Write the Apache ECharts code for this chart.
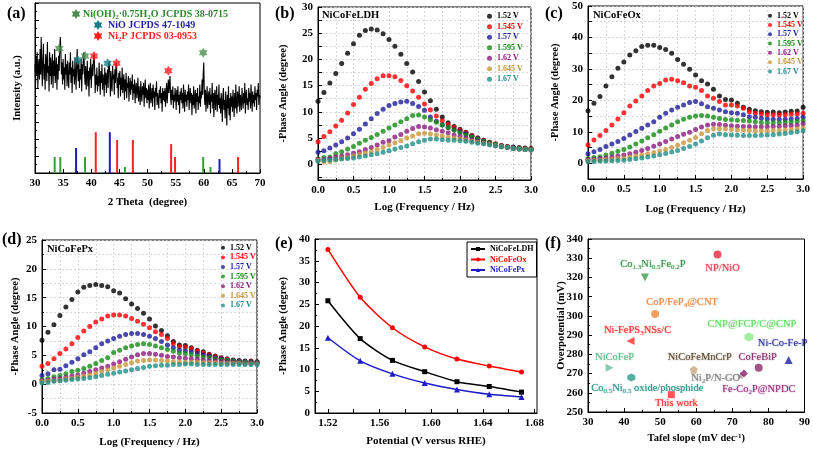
<!DOCTYPE html>
<html><head><meta charset="utf-8">
<script src="https://cdn.jsdelivr.net/npm/echarts@6/dist/echarts.min.js"></script>
<style>html,body{margin:0;padding:0;background:#fff}#c{width:813px;height:449px}</style>
</head><body><div id="c"></div>
<script>
// ---------- (a) XRD ----------
const XRD_START = 30, XRD_STEP = 0.1;
const XRD_INTENSITY = [
64,53,69,57,71,50,62,67,55,73,
58,80,62,51,68,76,55,64,49,70,
66,54,77,59,63,48,71,57,68,52,
62,70,50,66,57,73,53,61,68,49,
64,55,69,60,74,80,72,58,65,52,
67,55,62,49,70,58,64,51,66,56,
50,65,58,71,53,62,47,66,57,61,
52,68,59,49,63,73,60,54,66,50,
61,55,67,48,64,58,69,71,59,52,
63,49,58,66,51,60,45,62,55,67,
50,59,64,57,68,70,61,47,58,52,
62,48,57,51,65,55,46,60,53,64,
49,58,55,45,62,52,59,47,56,61,
50,64,66,57,45,60,52,48,63,55,
58,46,61,53,65,63,50,56,44,59,
52,60,45,56,49,62,47,54,58,43,
55,48,59,44,53,50,57,42,51,56,
46,54,49,58,43,52,47,55,41,50,
53,44,49,56,42,51,46,40,54,47,
42,51,46,53,39,48,55,44,50,41,
49,43,52,38,47,53,41,45,50,39,
52,44,48,37,50,45,54,40,47,43,
38,49,44,51,41,47,36,50,43,48,
42,50,39,46,53,41,48,55,47,52,
57,45,40,49,43,51,38,46,42,50,
45,37,49,42,51,40,46,35,48,43,
50,41,47,38,52,44,36,49,42,46,
39,48,43,52,37,45,50,41,47,34,
46,40,51,38,44,49,35,47,42,50,
37,45,41,52,39,48,44,55,46,58,
65,47,40,49,36,45,51,38,44,48,
40,50,35,46,42,53,38,47,33,45,
49,37,44,51,36,46,40,52,38,44,
35,47,41,30,45,50,37,43,32,48,
40,28,46,38,51,34,44,31,47,39,
45,36,49,41,33,47,38,52,40,35,
48,39,44,51,36,46,42,37,50,43,
38,47,41,53,35,45,49,40,44,37,
50,42,47,38,52,44,36,48,41,46,
39,51,43,47,37,49,45,53,40,46,
44];
const REF_NIOH = [[33.5,9.4],[34.5,9.4],[38.9,9.4],[46.0,3.5],[59.9,9.4],[61.2,3.5]];
const REF_NIO  = [[37.3,14.7],[43.3,24],[62.8,8.2]];
const REF_NI2P = [[40.8,24],[44.6,19.4],[47.4,19.4],[54.2,17],[54.9,9.4],[66.1,9.4]];
const STAR_NIOH = [[34.3,73.3],[38.9,68.8],[59.9,70.8]];
const STAR_NIO  = [[37.6,66.5],[42.9,64.5]];
const STAR_NI2P = [[40.5,68.8],[44.5,64.5],[53.7,60.2]];

// ---------- (b)(c)(d) Bode phase ----------
const LOGF = [0,0.083,0.167,0.25,0.333,0.417,0.5,0.583,0.667,0.75,0.833,0.917,1,1.083,1.167,1.25,1.333,1.417,1.5,1.583,1.667,1.75,1.833,1.917,2,2.083,2.167,2.25,2.333,2.417,2.5,2.583,2.667,2.75,2.833,2.917,3];
const VOLTS = ['1.52 V','1.545 V','1.57 V','1.595 V','1.62 V','1.645 V','1.67 V'];

const LDH_152  = [12.0,13.7,15.5,17.3,19.2,21.2,23.0,24.6,25.5,25.8,25.6,24.9,23.8,22.5,21.0,19.2,17.6,15.8,13.8,12.1,10.5,9.0,7.9,7.2,6.7,6.1,5.5,5.0,4.6,4.2,3.8,3.6,3.4,3.3,3.2,3.1,3.0];
const LDH_1545 = [4.3,5.3,6.2,7.3,8.4,9.8,11.4,12.8,14.3,15.4,16.3,16.9,16.9,16.7,16.0,15.0,14.0,12.8,11.5,10.4,9.2,8.3,7.6,7.0,6.5,6.0,5.5,5.0,4.6,4.2,3.9,3.6,3.4,3.2,3.1,3.0,2.9];
const LDH_157  = [2.3,2.6,3.1,3.7,4.3,5.0,5.8,6.7,7.7,8.7,9.7,10.5,11.2,11.6,11.9,12.0,11.6,11.0,10.3,9.0,8.2,7.5,7.0,6.6,6.2,5.8,5.3,4.9,4.5,4.1,3.8,3.5,3.3,3.2,3.0,2.9,2.8];
const LDH_1595 = [1.0,1.3,1.4,2.0,2.4,2.9,3.4,4.0,4.6,5.1,5.7,6.3,6.9,7.5,8.1,8.7,9.3,9.4,9.0,8.5,8.0,7.5,7.0,6.5,6.0,5.6,5.2,4.8,4.4,4.1,3.8,3.5,3.3,3.1,3.0,2.9,2.8];
const LDH_162  = [0.9,0.9,1.1,1.4,1.6,1.8,2.1,2.4,2.8,3.2,3.7,4.2,4.5,5.2,5.7,6.3,6.8,7.2,7.1,6.9,6.6,6.3,6.0,5.6,5.3,5.0,4.7,4.4,4.1,3.9,3.6,3.4,3.2,3.0,2.9,2.8,2.7];
const LDH_1645 = [0.7,0.5,0.5,0.8,1.1,1.3,1.6,1.9,2.1,2.4,2.8,3.2,3.7,4.1,4.5,5.0,5.4,5.8,5.9,5.8,5.6,5.4,5.2,5.0,4.8,4.6,4.4,4.2,4.0,3.8,3.6,3.4,3.2,3.0,2.9,2.8,2.7];
const LDH_167  = [0.6,0.7,0.8,0.9,1.0,1.1,1.2,1.4,1.6,1.8,2.0,2.3,2.6,2.9,3.2,3.5,3.9,4.3,4.6,4.8,4.8,4.7,4.6,4.6,4.5,4.4,4.2,4.0,3.9,3.7,3.5,3.3,3.2,3.0,2.9,2.8,2.7];

const OX_152  = [16.7,19.1,21.2,24.6,27.5,30.2,32.2,34.4,35.8,37.1,37.5,37.5,36.8,36.2,35.0,33.0,31.5,29.9,28.1,26.2,25.2,23.5,21.4,20.3,20.1,19.1,17.8,17.2,16.7,16.4,16.2,16.3,16.1,16.3,16.5,16.6,17.8];
const OX_1545 = [5.8,7.4,8.8,10.4,12.2,14.1,16.1,18.2,19.8,21.4,23.1,24.6,25.4,26.5,26.7,26.2,25.6,24.6,24.2,23.1,21.4,20.7,19.6,18.5,18.5,18.2,17.5,16.4,15.9,15.7,15.4,15.4,15.4,15.4,15.6,15.7,15.9];
const OX_157  = [3.0,3.7,4.4,5.3,6.1,6.9,7.9,9.0,10.1,11.1,12.2,13.2,14.6,15.9,16.9,17.8,18.5,19.3,19.6,18.9,18.0,17.5,16.9,16.4,16.1,15.9,15.4,14.8,14.6,14.3,14.1,14.0,14.0,14.0,14.1,14.2,14.6];
const OX_1595 = [1.5,1.8,2.1,2.6,3.2,3.8,4.4,5.2,6.1,7.1,8.1,9.1,10.2,11.2,12.2,13.2,14.0,14.6,15.0,15.2,15.0,14.6,14.2,13.9,13.8,13.7,13.6,13.4,13.2,13.0,12.9,12.9,12.9,13.0,13.1,13.3,13.5];
const OX_162  = [1.2,1.3,1.5,1.7,2.0,2.3,2.6,3.0,3.5,4.1,4.7,5.4,6.1,6.9,7.7,8.5,9.2,9.9,10.7,11.5,12.2,12.4,12.3,12.1,11.9,11.8,11.7,11.7,11.6,11.6,11.6,11.7,11.8,11.9,12.0,12.1,12.6];
const OX_1645 = [0.8,0.9,1.0,1.1,1.3,1.5,1.7,2.0,2.3,2.6,3.0,3.4,3.9,4.4,5.0,5.7,6.5,7.3,8.2,9.4,10.4,11.0,11.0,10.9,10.7,10.6,10.5,10.4,10.3,10.3,10.3,10.4,10.5,10.6,10.8,11.0,11.3];
const OX_167  = [0.5,0.6,0.7,0.7,0.8,0.9,1.0,1.2,1.4,1.7,2.0,2.3,2.7,3.1,3.6,4.1,4.7,5.3,6.1,7.1,8.1,8.9,9.3,9.1,9.0,8.9,8.8,8.8,8.8,8.9,9.0,9.1,9.3,9.5,9.8,10.0,10.3];

const PX_152  = [7.6,9.0,10.3,11.9,13.4,14.7,16.0,16.8,17.1,17.3,17.1,16.9,16.2,15.8,14.8,13.9,13.1,12.3,11.3,10.1,9.3,8.4,7.4,6.8,6.7,6.3,5.9,5.6,5.2,4.9,4.6,4.4,4.2,4.1,4.0,4.0,3.9];
const PX_1545 = [3.1,3.6,4.4,5.3,6.1,7.0,8.1,9.2,10.0,10.8,11.3,11.8,12.0,12.0,11.8,11.4,10.9,10.4,9.8,9.1,8.6,7.9,7.0,6.5,6.4,6.1,5.7,5.4,5.1,4.8,4.5,4.3,4.1,4.0,3.9,3.9,3.8];
const PX_157  = [1.5,1.8,2.5,2.6,3.2,3.8,4.4,5.1,5.6,6.3,7.0,7.5,7.9,8.3,8.6,8.8,8.8,8.6,8.3,7.9,7.4,6.8,6.3,5.9,5.8,5.6,5.3,5.1,4.9,4.6,4.4,4.2,4.1,4.0,3.9,3.8,3.8];
const PX_1595 = [0.8,1.0,1.3,1.5,1.8,2.2,2.4,2.7,3.1,3.6,4.1,4.6,5.5,5.9,6.3,6.6,6.9,7.0,6.9,6.6,6.3,6.0,5.7,5.4,5.3,5.1,4.9,4.7,4.6,4.4,4.2,4.1,4.0,3.9,3.8,3.7,3.7];
const PX_162  = [0.6,0.7,0.9,1.0,1.2,1.4,1.6,1.9,2.2,2.5,2.8,3.1,3.5,3.9,4.3,4.7,5.1,5.3,5.3,5.2,5.0,4.8,4.7,4.6,4.5,4.4,4.3,4.2,4.1,4.0,3.9,3.8,3.7,3.7,3.6,3.6,3.6];
const PX_1645 = [0.4,0.5,0.6,0.7,0.9,1.0,1.2,1.4,1.6,1.9,2.2,2.5,2.8,3.1,3.4,3.7,4.0,4.1,4.2,4.2,4.1,4.0,3.9,3.9,3.8,3.8,3.8,3.7,3.7,3.7,3.6,3.6,3.6,3.6,3.5,3.5,3.5];
const PX_167  = [0.2,0.3,0.5,0.6,0.7,0.8,0.9,1.0,1.1,1.3,1.5,1.7,1.9,2.1,2.3,2.5,2.7,2.9,3.1,3.2,3.3,3.3,3.4,3.4,3.5,3.5,3.4,3.4,3.4,3.4,3.4,3.4,3.4,3.4,3.4,3.4,3.4];

// ---------- (e) ----------
const E_POT = [1.52,1.545,1.57,1.595,1.62,1.645,1.67];
const E_LDH = [25.8,17.1,12.1,9.5,7.2,6.1,4.8];
const E_OX  = [37.6,26.6,19.6,15.2,12.4,10.8,9.4];
const E_PX  = [17.3,12.0,9.0,6.9,5.4,4.3,3.7];

// ---------- (f) ----------
const F_NAMES = ['NP/NiO','Co_{1.3}Ni_{0.5}Fe_{0.2}P','CoP/FeP_{4}@CNT','CNP@FCP/C@CNP','Ni-FePS_{3}NSs/C','Ni-Co-Fe-P','NiCoFeP','NiCoFeMnCrP','CoFeBiP','Ni_{2}P/N-GO','Fe-Co_{2}P@NPDC','Co_{0.5}Ni_{0.5} oxide/phosphide','This work'];
const F_TAFEL = [65.9,45.8,48.6,74.6,41.8,85.6,36.0,59.3,77.3,72.3,73.2,42.0,53.1];
const F_ETA   = [332,320,301,289,287,277,273,272,273,269,270,268,259];

// ---------- styles ----------
const FONT = "'Liberation Serif','Times New Roman',serif";
const VCOLORS = ['#000000','#ff0000','#1c1c9c','#138c13','#8c1a80','#c8963a','#1e8e88'];
const HEXAGRAM = 'path://M10 0L12.89 5L18.66 5L15.77 10L18.66 15L12.89 15L10 20L7.11 15L1.34 15L4.23 10L1.34 5L7.11 5Z';
const HEX = 'path://M5 0L9.33 2.5L9.33 7.5L5 10L0.67 7.5L0.67 2.5Z';
const PENT = 'path://M5 0L9.76 3.45L7.94 9.05L2.06 9.05L0.24 3.45Z';
const STAR5 = 'path://M5 0L6.18 3.38L9.76 3.45L6.9 5.62L7.94 9.05L5 7L2.06 9.05L3.1 5.62L0.24 3.45L3.82 3.38Z';
const F_STYLE = [
 {c:'#e3253d', s:'circle', r:0, z:8, t:'#e3253d', o:[5,14]},
 {c:'#3c9a4a', s:'triangle', r:180, z:8, t:'#1f8a33', o:[8,-13]},
 {c:'#f08a3c', s:'circle', r:0, z:8, t:'#f07b2e', o:[27,-12]},
 {c:'#8ae88a', s:HEX, r:0, z:9, t:'#4fd84f', o:[3,-13]},
 {c:'#ff2a2a', s:'triangle', r:90, z:8, t:'#ff1a1a', o:[7,-11]},
 {c:'#1c1ca8', s:'triangle', r:0, z:8, t:'#1c1c98', o:[-6,-17]},
 {c:'#66c29a', s:'triangle', r:-90, z:8, t:'#45b880', o:[5,-11]},
 {c:'#c8a878', s:PENT, r:0, z:8, t:'#4a3a1a', o:[6,-12]},
 {c:'#8c2a6c', s:'circle', r:0, z:8, t:'#7c1c5c', o:[-1,-11]},
 {c:'#9a9a9a', s:STAR5, r:0, z:8, t:'#6e6e6e', o:[-25,3]},
 {c:'#8c1c6c', s:'diamond', r:0, z:8, t:'#8c1c6c', o:[15,16]},
 {c:'#2a9a8a', s:HEX, r:0, z:8, t:'#128a78', o:[16,11]},
 {c:'#ff2a2a', s:'rect', r:0, z:7, t:'#ff1a1a', o:[5,9]}
];

function rt(s){ return s.replace(/_\{([^}]*)\}/g,'{s|$1}').replace(/\^\{([^}]*)\}/g,'{p|$1}'); }
function dm(a,b){ const o=Object.assign({},a); for(const k in b){ const v=b[k]; if(v&&typeof v==='object'&&!Array.isArray(v)&&o[k]&&typeof o[k]==='object'&&!Array.isArray(o[k])) o[k]=dm(o[k],v); else o[k]=v; } return o; }

const GL = {show:true, lineStyle:{color:'#cfcfcf', type:[2,2], width:0.8}};
function ax(extra){
  return dm({
    type:'value', nameLocation:'middle', nameMoveOverlap:false,
    nameTextStyle:{fontFamily:FONT, fontWeight:'bold', fontSize:11, color:'#000'},
    axisLine:{show:true, onZero:false, lineStyle:{color:'#000', width:1}},
    axisTick:{show:true, inside:true, length:4, lineStyle:{color:'#000', width:1}},
    minorTick:{show:false},
    axisLabel:{show:true, color:'#000', fontFamily:FONT, fontWeight:'bold', fontSize:11, margin:5},
    splitLine:{show:false}, minorSplitLine:{show:false}
  }, extra);
}
const f1 = v => v.toFixed(1);
const range = (a,b,s) => { const r=[]; for(let v=a; v<=b+1e-9; v+=s) r.push(+v.toFixed(4)); return r; };

const GRIDS = [
 {left:35, top:3, width:225, height:170},
 {left:318, top:7, width:213, height:173},
 {left:588, top:6, width:218, height:173},
 {left:42, top:240, width:215, height:173},
 {left:315, top:239, width:222, height:174},
 {left:588, top:239, width:218, height:173}
].map(g => Object.assign(g, {show:true, borderColor:'#000', borderWidth:1, backgroundColor:'transparent'}));

const xAxis = [
 ax({gridIndex:0, min:30, max:70, interval:5, name:'2 Theta  (degree)', nameGap:24, minorTick:{show:true, splitNumber:2, length:2}}),
 ax({gridIndex:1, min:0, max:3, interval:0.5, name:'Log (Frequency / Hz)', nameGap:22, axisLabel:{formatter:f1}, minorTick:{show:true, splitNumber:2, length:2}, splitLine:GL, minorSplitLine:GL}),
 ax({gridIndex:2, min:0, max:3, interval:0.5, name:'Log (Frequency / Hz)', nameGap:25, axisLabel:{formatter:f1}, minorTick:{show:true, splitNumber:2, length:2}, splitLine:GL, minorSplitLine:GL}),
 ax({gridIndex:3, min:0, max:3, interval:0.5, name:'Log (Frequency / Hz)', nameGap:24, axisLabel:{formatter:f1}, minorTick:{show:true, splitNumber:2, length:2}, splitLine:GL, minorSplitLine:GL}),
 ax({gridIndex:4, min:1.51, max:1.682, name:'Potential (V versus RHE)', nameGap:23, axisLabel:{customValues:[1.52,1.56,1.60,1.64,1.68], formatter:v=>v.toFixed(2)}, axisTick:{customValues:range(1.52,1.68,0.02)}}),
 ax({gridIndex:5, min:30, max:90, interval:10, name:'Tafel slope (mV dec^{-1})'.replace(/\^\{([^}]*)\}/g,'{p|$1}'), nameGap:21, minorTick:{show:true, splitNumber:2, length:2},
    nameTextStyle:{fontSize:10.5, rich:{p:{fontSize:7, verticalAlign:'top', lineHeight:7, fontFamily:FONT, fontWeight:'bold', color:'#000'}}}})
];
const yAxis = [
 ax({gridIndex:0, min:0, max:100, interval:10, name:'Intensity (a.u.)', nameGap:12, axisLabel:{show:false}, minorTick:{show:true, splitNumber:2, length:2}, nameTextStyle:{fontSize:10.5}}),
 ax({gridIndex:1, min:-3, max:30, name:'-Phase Angle (degree)', nameGap:29, nameTextStyle:{fontSize:10.5}, axisLabel:{customValues:range(0,30,5)}, axisTick:{customValues:range(-2.5,30,2.5)}, splitLine:GL}),
 ax({gridIndex:2, min:-5, max:50, name:'-Phase Angle (degree)', nameGap:27, nameTextStyle:{fontSize:10.5}, axisLabel:{customValues:range(0,50,10)}, axisTick:{customValues:range(-5,50,5)}, splitLine:GL}),
 ax({gridIndex:3, min:-5, max:25, interval:5, name:'-Phase Angle (degree)', nameGap:21, nameTextStyle:{fontSize:10.5}, minorTick:{show:true, splitNumber:2, length:2}, splitLine:GL, minorSplitLine:GL}),
 ax({gridIndex:4, min:0, max:40, interval:5, name:'-Phase Angle (degree)', nameGap:26, nameTextStyle:{fontSize:10.5}, minorTick:{show:true, splitNumber:2, length:2}}),
 ax({gridIndex:5, min:250, max:340, interval:10, name:'Overpotential (mV)', nameGap:21, nameTextStyle:{fontSize:10.5}, minorTick:{show:true, splitNumber:2, length:2}})
];

const series = [];
// (a)
series.push({type:'line', xAxisIndex:0, yAxisIndex:0, data:XRD_INTENSITY.map((v,i)=>[XRD_START+i*XRD_STEP, v]), symbol:'none', lineStyle:{color:'#000', width:1.1}, silent:true, z:2});
[[REF_NIOH,'#32a032'],[REF_NIO,'#1c1cb4'],[REF_NI2P,'#ff2020']].forEach(([d,c])=>{
  series.push({type:'bar', xAxisIndex:0, yAxisIndex:0, data:d, barWidth:2, barGap:'-100%', itemStyle:{color:c}, silent:true});
});
[[STAR_NIOH,'#4e8b4e'],[STAR_NIO,'#177f86'],[STAR_NI2P,'#ff1c1c']].forEach(([d,c])=>{
  series.push({type:'scatter', xAxisIndex:0, yAxisIndex:0, data:d, symbol:HEXAGRAM, symbolKeepAspect:true, symbolSize:10, itemStyle:{color:c}, silent:true, z:5});
});
// (b)(c)(d)
const SETS = [
 [LDH_152,LDH_1545,LDH_157,LDH_1595,LDH_162,LDH_1645,LDH_167],
 [OX_152,OX_1545,OX_157,OX_1595,OX_162,OX_1645,OX_167],
 [PX_152,PX_1545,PX_157,PX_1595,PX_162,PX_1645,PX_167]
];
SETS.forEach((set,p)=>{
  set.forEach((arr,i)=>{
    series.push({type:'scatter', name:VOLTS[i], xAxisIndex:p+1, yAxisIndex:p+1, data:LOGF.map((x,k)=>[x,arr[k]]), symbolSize:5, itemStyle:{color:VCOLORS[i]}, silent:true});
  });
});
// (e)
[['NiCoFeLDH',E_LDH,'#000','rect',5],['NiCoFeOx',E_OX,'#ff0000','circle',5],['NiCoFePx',E_PX,'#1c1cc8','triangle',6]].forEach(([n,d,c,s,z])=>{
  series.push({type:'line', name:n, xAxisIndex:4, yAxisIndex:4, data:E_POT.map((x,i)=>[x,d[i]]), smooth:0.25, symbol:s, symbolSize:z, lineStyle:{color:c, width:1.5}, itemStyle:{color:c}, silent:true});
});
// (f)
series.push({type:'scatter', xAxisIndex:5, yAxisIndex:5, silent:true,
  data:F_NAMES.map((n,i)=>{ const st=F_STYLE[i]; return {
    value:[F_TAFEL[i],F_ETA[i]], symbol:st.s, symbolRotate:st.r, symbolSize:st.z, itemStyle:{color:st.c},
    label:{show:true, position:'inside', offset:st.o, formatter:rt(n), color:st.t, fontFamily:FONT, fontSize:10.5, lineHeight:13,
      textShadowColor:st.t, textShadowBlur:1.5,
      rich:{s:{fontSize:7, lineHeight:7, verticalAlign:'bottom', color:st.t, fontFamily:FONT, textShadowColor:st.t, textShadowBlur:1.5}}}
  };})
});

const LEGTXT = {fontFamily:FONT, fontWeight:'bold', fontSize:8};
const legend = [
 {orient:'vertical', left:487, top:11, padding:0, itemWidth:5, itemHeight:5, itemGap:0, icon:'circle', selectedMode:false,
  textStyle:Object.assign({lineHeight:10.5}, LEGTXT), data:VOLTS.map((n,i)=>({name:n, textStyle:{color:VCOLORS[i]}}))},
 {orient:'vertical', left:768, top:11, padding:0, itemWidth:4, itemHeight:4, itemGap:0, icon:'circle', selectedMode:false,
  textStyle:Object.assign({lineHeight:9.3}, LEGTXT), data:VOLTS.map((n,i)=>({name:n, textStyle:{color:VCOLORS[i]}}))},
 {orient:'vertical', left:221, top:243, padding:0, itemWidth:4, itemHeight:4, itemGap:0, icon:'circle', selectedMode:false,
  textStyle:Object.assign({lineHeight:9.6}, LEGTXT), data:VOLTS.map((n,i)=>({name:n, textStyle:{color:VCOLORS[i]}}))},
 {orient:'vertical', left:467, top:242, padding:[2,3,2,3], borderColor:'#000', borderWidth:1, itemWidth:14, itemHeight:5, itemGap:0.5, selectedMode:false,
  textStyle:Object.assign({lineHeight:10}, LEGTXT),
  data:[{name:'NiCoFeLDH', textStyle:{color:'#000'}},{name:'NiCoFeOx', textStyle:{color:'#ff0000'}},{name:'NiCoFePx', textStyle:{color:'#1c1cc8'}}]}
];

function starPts(cx,cy,r){ const p=[]; for(let k=0;k<12;k++){ const a=(-90+k*30)*Math.PI/180; const rr=k%2?r*0.577:r; p.push([cx+rr*Math.cos(a), cy+rr*Math.sin(a)]); } return p; }
function txt(x,y,t,o){ return Object.assign({type:'text', x:x, y:y, z:100, style:Object.assign({text:t, fill:'#000', fontFamily:FONT, fontWeight:'bold', fontSize:16, verticalAlign:'middle', align:'left'}, o||{})}); }
const SUBR = c => ({s:{fontSize:7, lineHeight:7, verticalAlign:'bottom', fill:c, fontFamily:FONT, fontWeight:'bold'}});
const graphic = [
 txt(7,14,'(a)'), txt(275,14,'(b)'), txt(545,14,'(c)'), txt(2,240,'(d)'), txt(275,244,'(e)'), txt(545,244,'(f)'),
 txt(322,15,'NiCoFeLDH',{fontSize:10.5}), txt(593,15,'NiCoFeOx',{fontSize:10.5}), txt(47,249,'NiCoFePx',{fontSize:10.5}),
 {type:'polygon', z:100, shape:{points:starPts(76,14,5)}, style:{fill:'#4e8b4e'}},
 {type:'polygon', z:100, shape:{points:starPts(98,25,5)}, style:{fill:'#177f86'}},
 {type:'polygon', z:100, shape:{points:starPts(98,36,5)}, style:{fill:'#ff1c1c'}},
 txt(83,14,rt('Ni(OH)_{2}·0.75H_{2}O JCPDS 38-0715'),{fontSize:10, fill:'#2a8a2a', lineHeight:13, rich:SUBR('#2a8a2a')}),
 txt(108,25,'NiO JCPDS 47-1049',{fontSize:10, fill:'#1f1fa8'}),
 txt(108,36,rt('Ni_{2}P JCPDS 03-0953'),{fontSize:10, fill:'#ff2020', lineHeight:13, rich:SUBR('#ff2020')})
];

const chart = echarts.init(document.getElementById('c'), null, {renderer:'canvas'});
chart.setOption({animation:false, backgroundColor:'#fff', grid:GRIDS, xAxis, yAxis, legend, series, graphic});
</script></body></html>
